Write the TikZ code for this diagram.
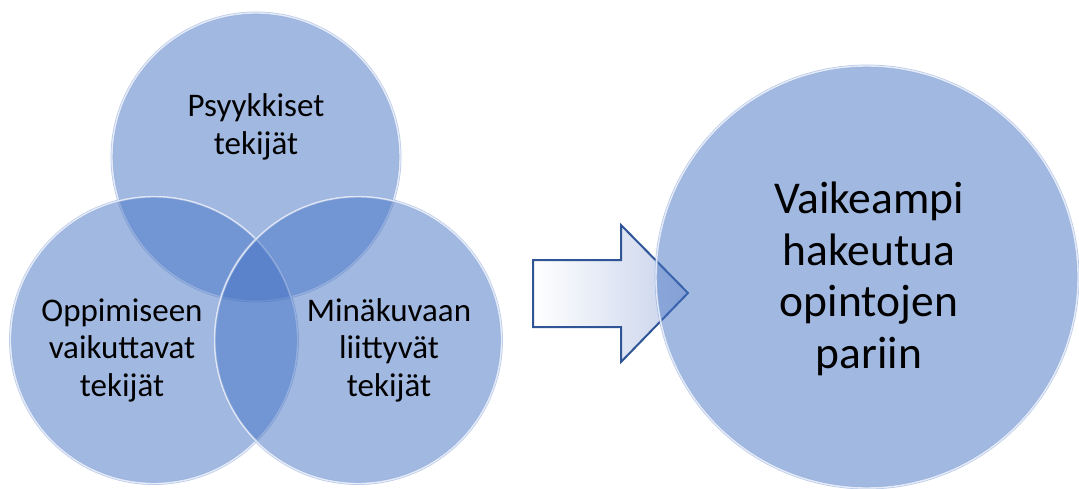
\documentclass[tikz,border=0pt]{standalone}
\usepackage{fontspec}
\setmainfont{Carlito}
\definecolor{vblue}{HTML}{4472C4}
\definecolor{arrowline}{HTML}{2F5597}
\definecolor{arrowfill}{HTML}{C5D0EA}
\begin{document}
\begin{tikzpicture}[x=1pt,y=-1pt,
  venn/.style={circle, inner sep=0pt, minimum size=#1, fill=vblue, fill opacity=0.5,
    draw=vblue!55, draw opacity=0.7, double=white, double distance=1.4pt, line width=0.7pt},
  smalltxt/.style={align=center, text=black, font=\fontsize{33pt}{37.5pt}\selectfont},
  bigtxt/.style={align=center, text=black, font=\fontsize{45.5pt}{51.7pt}\selectfont},
  arrowshape/.style={draw=arrowline, line width=2pt, line join=miter, left color=white, right color=arrowfill}]
\useasboundingbox (0,0) rectangle (1079,489);
% Venn circles
\node[venn=288pt] (top) at (256,157) {};
\node[venn=287pt] (left) at (154,340) {};
\node[venn=287pt] (right) at (358,340) {};
% arrow
\coordinate (a1) at (533,260);
\coordinate (a2) at (621,260);
\coordinate (a3) at (621,225);
\coordinate (tip) at (688,293);
\coordinate (a5) at (621,362);
\coordinate (a6) at (621,327);
\coordinate (a7) at (533,327);
\path[arrowshape] (a1) -- (a2) -- (a3) -- (tip) -- (a5) -- (a6) -- (a7) -- cycle;
% result circle
\node[venn=422pt] (result) at (867,277) {};
% texts
\node[smalltxt] (ttop) at (256,127) {Psyykkiset\\tekijät};
\node[smalltxt] (tleft) at (122,350) {Oppimiseen\\vaikuttavat\\tekijät};
\node[smalltxt] (tright) at (389,350) {Minäkuvaan\\liittyvät\\tekijät};
\node[bigtxt] (tresult) at (869,279) {Vaikeampi\\hakeutua\\opintojen\\pariin};
\end{tikzpicture}
\end{document}
